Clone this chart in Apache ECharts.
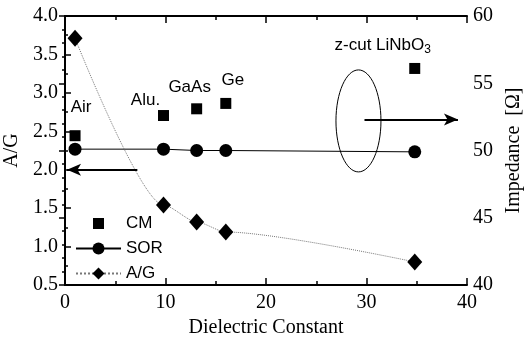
<!DOCTYPE html>
<html><head><meta charset="utf-8">
<script src="https://cdn.jsdelivr.net/npm/echarts@6/dist/echarts.min.js"></script>
<style>html,body{margin:0;padding:0;background:#fff}#c{width:524px;height:343px}</style>
</head><body><div id="c"></div>
<script>
// ---- data ----
const materials = ['Air', 'Alu.', 'GaAs', 'Ge', 'z-cut LiNbO{sub|3}'];
const dielectric = [1, 9.8, 13.1, 16, 34.8];
const cmImpedance = [51.1, 52.6, 53.1, 53.5, 56.1];
const sorImpedance = [50.1, 50.1, 50.0, 50.0, 49.9];
const agRatio = [3.71, 1.54, 1.32, 1.19, 0.80];
const xTicks = [0, 10, 20, 30, 40];
const leftTicks = [0.5, 1.0, 1.5, 2.0, 2.5, 3.0, 3.5, 4.0];
const rightTicks = [40, 45, 50, 55, 60];
// annotation positions (data coords)
const leftArrow = [[7.2, 2.0], [0.2, 2.0]];
const rightArrow = [[29.8, 52.3], [39.1, 52.3]];

const labelOffsets = [[6, -28], [-18, -15], [-7, -21], [7, -23], [-32, -23]];
const serif = '"Liberation Serif", "Times New Roman", serif';
const sans = '"Liberation Sans", Arial, sans-serif';

const chart = echarts.init(document.getElementById('c'));
const axisLine = {show: true, lineStyle: {color: '#000', width: 2}};
const tickLbl = {color: '#000', fontFamily: serif, fontSize: 20};

const cmData = dielectric.map((x, i) => ({
  value: [x, cmImpedance[i]],
  label: {show: true, position: 'inside', offset: labelOffsets[i], formatter: materials[i],
    color: '#000', fontFamily: sans, fontSize: 17,
    rich: {sub: {fontFamily: sans, fontSize: 12, padding: [9, 0, 0, 0], color: '#000'}}}
}));

chart.setOption({
  animation: false,
  grid: {left: 65, right: 57, top: 16, bottom: 58, outerBoundsMode: 'none', containLabel: false},
  xAxis: [{
    type: 'value', min: 0, max: 40, interval: 10,
    axisLine: axisLine,
    axisTick: {inside: true, length: 7, lineStyle: {color: '#000', width: 1.5}},
    minorTick: {show: true, splitNumber: 2, length: 4, lineStyle: {color: '#000', width: 1.5}},
    splitLine: {show: false},
    axisLabel: Object.assign({margin: 8, formatter: v => xTicks.includes(v) ? String(v) : ''}, tickLbl),
    name: 'Dielectric Constant', nameLocation: 'middle', nameGap: 30,
    nameTextStyle: {color: '#000', fontFamily: serif, fontSize: 20}
  }, {
    type: 'value', position: 'top', min: 0, max: 40, interval: 10,
    axisLine: axisLine,
    axisTick: {inside: true, length: 7, lineStyle: {color: '#000', width: 1.5}},
    minorTick: {show: true, splitNumber: 2, length: 4, lineStyle: {color: '#000', width: 1.5}},
    splitLine: {show: false}, axisLabel: {show: false}
  }],
  yAxis: [{
    type: 'value', min: 0.5, max: 4.0, interval: 0.5,
    axisLine: axisLine,
    axisTick: {inside: true, length: 6, lineStyle: {color: '#000', width: 1.5}},
    minorTick: {show: true, splitNumber: 2, length: 3, lineStyle: {color: '#000', width: 1.5}},
    splitLine: {show: false},
    axisLabel: Object.assign({margin: 7, formatter: v => leftTicks.some(t => Math.abs(t - v) < 1e-6) ? v.toFixed(1) : ''}, tickLbl),
    name: 'A/G', nameLocation: 'middle', nameGap: 34, nameRotate: 90,
    nameTextStyle: {color: '#000', fontFamily: serif, fontSize: 20}
  }, {
    type: 'value', position: 'right', min: 40, max: 60, interval: 5,
    axisLine: axisLine,
    axisTick: {inside: true, length: 6, lineStyle: {color: '#000', width: 1.5}},
    minorTick: {show: true, splitNumber: 5, length: 3, lineStyle: {color: '#000', width: 1.5}},
    splitLine: {show: false},
    axisLabel: Object.assign({margin: 6, formatter: v => rightTicks.includes(v) ? String(v) : ''}, tickLbl),
    name: 'Impedance  [Ω]', nameLocation: 'middle', nameGap: 33, nameRotate: 90,
    nameTextStyle: {color: '#000', fontFamily: serif, fontSize: 20}
  }],
  legend: {
    orient: 'vertical', left: 75, top: 215, padding: 0, itemGap: 8,
    itemWidth: 45, itemHeight: 15,
    textStyle: {color: '#000', fontFamily: sans, fontSize: 17},
    data: [{name: 'CM', icon: 'path://M0,0 M15,15 M2,2h11v11h-11z'}, {name: 'SOR'}, {name: 'A/G'}]
  },
  series: [{
    name: 'CM', type: 'scatter', yAxisIndex: 1, symbol: 'rect', symbolSize: 11,
    itemStyle: {color: '#000', opacity: 1}, data: cmData,
    markLine: {silent: true, symbol: ['none', 'arrow'], symbolSize: [9, 14],
      label: {show: false}, lineStyle: {color: '#000', width: 2, type: 'solid'},
      data: [[{coord: rightArrow[0]}, {coord: rightArrow[1]}]]}
  }, {
    name: 'SOR', type: 'line', yAxisIndex: 1, symbol: 'circle', symbolSize: 13,
    itemStyle: {color: '#000'}, lineStyle: {color: '#000', width: 1},
    data: dielectric.map((x, i) => [x, sorImpedance[i]])
  }, {
    name: 'A/G', type: 'line', yAxisIndex: 0, symbol: 'diamond', symbolSize: [15, 17],
    smooth: 0.25, smoothMonotone: 'x',
    itemStyle: {color: '#000'}, lineStyle: {color: '#777', width: 1, type: 'dotted'},
    data: dielectric.map((x, i) => [x, agRatio[i]]),
    markLine: {silent: true, symbol: ['none', 'arrow'], symbolSize: [9, 14],
      label: {show: false}, lineStyle: {color: '#000', width: 2, type: 'solid'},
      data: [[{coord: leftArrow[0]}, {coord: leftArrow[1]}]]}
  }]
});

// ellipse annotation around the z-cut LiNbO3 impedance points
const ellipseCenter = [29.2, 52.2];
const c = chart.convertToPixel({xAxisIndex: 0, yAxisIndex: 1}, ellipseCenter);
chart.setOption({graphic: [{
  type: 'ellipse', shape: {cx: c[0], cy: c[1], rx: 22.5, ry: 51},
  style: {fill: 'none', stroke: '#000', lineWidth: 1}, silent: true
}]});
</script></body></html>
